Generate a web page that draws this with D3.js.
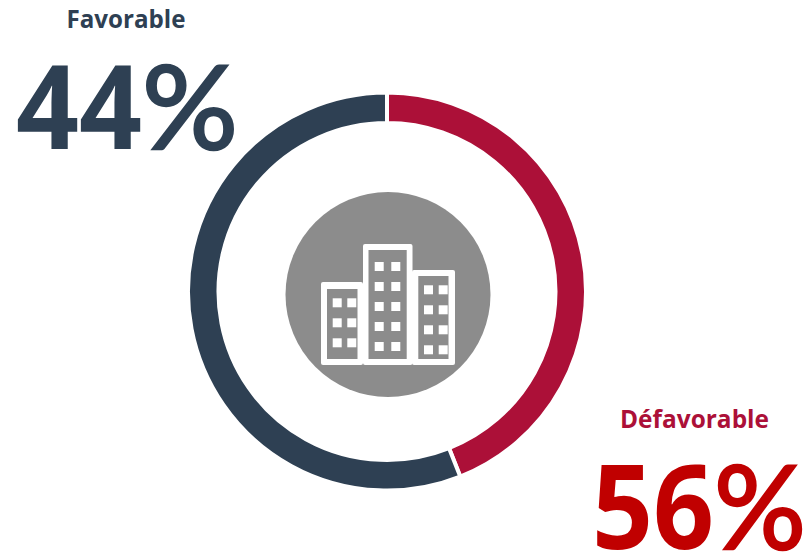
<!DOCTYPE html>
<html><head><meta charset="utf-8">
<script src="https://cdn.jsdelivr.net/npm/d3@7"></script>
<style>html,body{margin:0;padding:0;background:#fff}svg{display:block}</style>
</head><body><svg id="c" width="809" height="554"></svg>
<script>
const categories = ["Défavorable", "Favorable"];
const arcShares = [44, 56];
const labelValues = ["56", "44"];
const arcColors = ["#ac1038", "#2e4053"];
const titleColors = ["#ac1038", "#2e4053"];
const valueColors = ["#c00000", "#2e4053"];

const svg = d3.select("#c");
const cx = 387, cy = 291.5;
const pie = d3.pie().sort(null).value(d => d);
const arc = d3.arc().innerRadius(168.5).outerRadius(199);
svg.append("g").attr("transform", `translate(${cx},${cy})`)
  .selectAll("path").data(pie(arcShares)).join("path")
  .attr("d", arc).attr("fill", (d, i) => arcColors[i])
  .attr("stroke", "#fff").attr("stroke-width", 4);

// icon
const ic = svg.append("g");
ic.append("circle").attr("cx", 388).attr("cy", 294.5).attr("r", 102.5).attr("fill", "#8c8c8c");
const buildings = [
  {o:[321,282,363,365], i:[327,289,357.5,359], cols:[332.7,347.3], rows:[298.3,318.3,338.3]},
  {o:[363,244,412.5,365], i:[368.5,250,406.7,359], cols:[374.7,391.3], rows:[262,282,302,322,342]},
  {o:[412,270,455,365], i:[418.3,276,448.5,359], cols:[424,438.7], rows:[285.3,305.3,325.3,345.3]}
];
buildings.forEach(b => {
  ic.append("rect").attr("x", b.o[0]).attr("y", b.o[1]).attr("width", b.o[2]-b.o[0]).attr("height", b.o[3]-b.o[1]).attr("rx", 2).attr("fill", "#fff");
  ic.append("rect").attr("x", b.i[0]).attr("y", b.i[1]).attr("width", b.i[2]-b.i[0]).attr("height", b.i[3]-b.i[1]).attr("fill", "#8c8c8c");
  b.rows.forEach(y => b.cols.forEach(x => ic.append("rect").attr("x", x).attr("y", y).attr("width", 9).attr("height", 9).attr("fill", "#fff")));
});

// labels
const titlePos = [[694.5, 428], [126, 28]];
const titleLen = [149, 119];
const valuePos = [[592, 549], [16, 149]];
const digitLen = [122, 126];
const pctLen = [92, 96];
categories.forEach((c, i) => {
  svg.append("text").attr("x", titlePos[i][0]).attr("y", titlePos[i][1]).attr("text-anchor", "middle")
    .attr("font-family", "'Open Sans', sans-serif").attr("font-weight", 700).attr("font-size", 24.5)
    .attr("textLength", titleLen[i]).attr("lengthAdjust", "spacingAndGlyphs")
    .attr("fill", titleColors[i]).text(c);
  const t = svg.append("text").attr("x", valuePos[i][0]).attr("y", valuePos[i][1]).attr("fill", valueColors[i]);
  t.append("tspan").attr("font-family", "'Open Sans', sans-serif").attr("font-weight", 700).attr("font-size", 116)
    .attr("textLength", digitLen[i]).attr("lengthAdjust", "spacingAndGlyphs").text(labelValues[i]);
  t.append("tspan").attr("font-family", "Lato, sans-serif").attr("font-weight", 400).attr("font-size", 116)
    .attr("stroke", valueColors[i]).attr("stroke-width", 2.5)
    .attr("textLength", pctLen[i]).attr("lengthAdjust", "spacingAndGlyphs").text("%");
});
</script></body></html>
